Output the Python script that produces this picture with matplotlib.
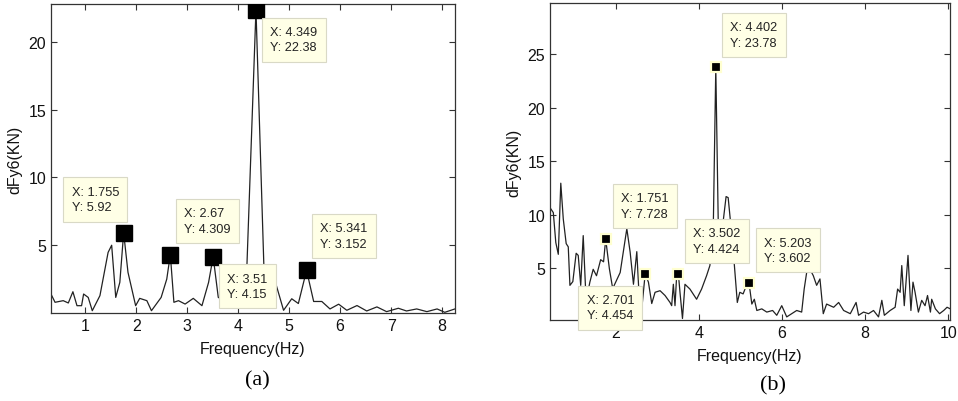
import matplotlib
matplotlib.use('Agg')
import matplotlib.pyplot as plt
from matplotlib.transforms import offset_copy

plt.rcParams['font.family'] = ['Liberation Sans', 'DejaVu Sans']

# (a) spectrum
fa = [0.33, 0.41, 0.57, 0.67, 0.76, 0.84, 0.93, 0.97, 1.06, 1.14, 1.29, 1.45, 1.52, 1.60, 1.68,
      1.755, 1.84, 1.99, 2.07, 2.21, 2.30, 2.49, 2.60, 2.67, 2.74, 2.83, 2.96, 3.12, 3.29, 3.42,
      3.51, 3.61, 3.75, 3.95, 4.15, 4.349, 4.52, 4.66, 4.72, 4.89, 5.05, 5.18, 5.341, 5.48, 5.64,
      5.80, 5.97, 6.13, 6.33, 6.52, 6.72, 6.91, 7.14, 7.30, 7.50, 7.70, 7.90, 8.05, 8.25]
ya = [1.4, 0.79, 0.91, 0.74, 1.57, 0.54, 0.54, 1.4, 1.15, 0.17, 1.28, 4.47, 5.0, 1.15, 2.26,
      5.92, 3.0, 0.54, 1.08, 0.91, 0.17, 1.15, 2.5, 4.309, 0.79, 0.91, 0.66, 1.08, 0.54, 2.26,
      4.15, 1.15, 0.9, 0.7, 1.2, 22.38, 1.5, 2.6, 2.4, 0.2, 1.05, 0.7, 3.152, 0.85, 0.85,
      0.3, 0.65, 0.2, 0.55, 0.15, 0.45, 0.1, 0.35, 0.15, 0.3, 0.1, 0.3, 0.05, 0.3]
peaks_a_x = [1.755, 2.67, 3.51, 4.349, 5.341]
peaks_a_y = [5.92, 4.309, 4.15, 22.38, 3.152]

# (b) spectrum
fb = [0.43, 0.49, 0.55, 0.61, 0.67, 0.73, 0.80, 0.85, 0.89, 0.96, 1.04, 1.09, 1.15, 1.21, 1.28,
      1.37, 1.45, 1.53, 1.63, 1.70, 1.751, 1.84, 1.92, 2.10, 2.26, 2.34, 2.42, 2.50, 2.56, 2.62,
      2.701, 2.78, 2.86, 2.94, 3.06, 3.18, 3.30, 3.34, 3.38, 3.42, 3.46, 3.502, 3.54, 3.60, 3.66,
      3.78, 3.94, 4.06, 4.18, 4.26, 4.34, 4.402, 4.47, 4.55, 4.65, 4.70, 4.78, 4.85, 4.92, 4.98,
      5.06, 5.14, 5.203, 5.27, 5.33, 5.39, 5.51, 5.63, 5.77, 5.87, 5.99, 6.11, 6.23, 6.35, 6.47,
      6.53, 6.59, 6.67, 6.75, 6.83, 6.91, 6.99, 7.07, 7.24, 7.36, 7.48, 7.64, 7.78, 7.84, 7.96,
      8.08, 8.20, 8.32, 8.40, 8.46, 8.60, 8.72, 8.78, 8.84, 8.88, 8.94, 9.03, 9.10, 9.15, 9.20,
      9.28, 9.36, 9.44, 9.50, 9.57, 9.60, 9.69, 9.79, 9.89, 9.97, 10.05]
yb = [10.55, 10.2, 7.4, 6.3, 12.95, 9.6, 7.3, 7.0, 3.4, 3.75, 6.4, 6.2, 3.4, 8.05, 1.9,
      3.7, 4.9, 4.3, 5.8, 5.6, 7.728, 4.95, 3.1, 4.6, 8.7, 6.5, 3.5, 6.55, 2.1, 1.2,
      4.454, 3.7, 1.7, 2.75, 2.9, 2.45, 1.8, 1.5, 3.5, 1.5, 4.3, 4.424, 2.75, 0.3, 3.5,
      3.05, 2.1, 3.05, 4.3, 5.25, 8.4, 23.78, 7.1, 8.4, 11.7, 11.6, 8.4, 5.25, 1.8, 2.75,
      2.6, 3.4, 3.602, 1.65, 2.1, 1.05, 1.2, 0.9, 1.05, 0.6, 1.5, 0.45, 0.75, 1.05, 0.9,
      3.05, 4.6, 4.9, 4.3, 3.4, 4.0, 0.75, 1.65, 1.35, 1.8, 1.05, 0.75, 1.8, 0.6, 0.9,
      0.75, 1.05, 0.45, 2.0, 0.6, 1.05, 1.35, 3.05, 2.75, 5.25, 1.5, 6.2, 1.05, 3.7, 2.75,
      0.9, 2.0, 1.5, 2.45, 0.9, 2.1, 1.2, 0.75, 1.05, 1.35, 1.2]
peaks_b_x = [1.751, 2.701, 3.502, 4.402, 5.203]
peaks_b_y = [7.728, 4.454, 4.424, 23.78, 3.602]

# upper-left corners of the data tip boxes (data coords)
tips_a = [(0.57, 10.0), (2.78, 8.4), (3.62, 3.6), (4.47, 21.8), (5.45, 7.3)]
tips_b = [(1.92, 12.9), (1.09, 3.38), (3.66, 9.6), (4.55, 28.9), (5.37, 8.74)]

fig = plt.figure(figsize=(9.58, 4.02), dpi=100)
axa = fig.add_axes([0.0532, 0.2189, 0.4217, 0.7687])
axb = fig.add_axes([0.5741, 0.2015, 0.4175, 0.7886])


def draw(ax, f, y, px, py, tips, big):
    ax.plot(f, y, color='#222222', lw=0.9, zorder=2)
    if big:
        ax.plot(px, py, 's', color='black', ms=12, zorder=4)
    else:
        ax.plot(px, py, 's', color='black', ms=7.5, mec='#ffffd0', mew=1.6, zorder=4)
    fs = 9.2
    pad = 0.65 * fs
    tr = offset_copy(ax.transData, fig=fig, x=pad, y=-pad, units='points')
    for (tx, ty), xv, yv in zip(tips, px, py):
        ax.text(tx, ty, 'X: %.4g\nY: %.4g' % (xv, yv), transform=tr, ha='left', va='top',
                fontsize=fs, color='#222222', linespacing=1.4, zorder=5, clip_on=False,
                bbox=dict(boxstyle='square,pad=0.65', fc='#ffffe6', ec='#d9d9c6', lw=0.8))
    ax.tick_params(direction='in', top=True, right=True, labelsize=11.5, length=4,
                   colors='#333333', labelcolor='#111111')
    for s in ax.spines.values():
        s.set_color('#333333')
        s.set_linewidth(0.9)
    ax.set_xlabel('Frequency(Hz)', fontsize=11.5, color='#111111', labelpad=6)
    ax.set_ylabel('dFy6(KN)', fontsize=11.5, color='#111111', labelpad=4)


draw(axa, fa, ya, peaks_a_x, peaks_a_y, tips_a, True)
axa.set_xlim(0.33, 8.25)
axa.set_ylim(0, 22.8)
axa.set_xticks(range(1, 9))
axa.set_yticks([5, 10, 15, 20])

draw(axb, fb, yb, peaks_b_x, peaks_b_y, tips_b, False)
axb.set_xlim(0.41, 10.04)
axb.set_ylim(0.16, 29.8)
axb.set_xticks([2, 4, 6, 8, 10])
axb.set_yticks([5, 10, 15, 20, 25])

fig.text(257 / 958, 1 - 381 / 402, '(a)', ha='center', va='center', fontsize=16,
         family=['Liberation Serif', 'DejaVu Serif'])
fig.text(773 / 958, 1 - 386 / 402, '(b)', ha='center', va='center', fontsize=16,
         family=['Liberation Serif', 'DejaVu Serif'])

fig.savefig('out.png', dpi=100, facecolor='white')
